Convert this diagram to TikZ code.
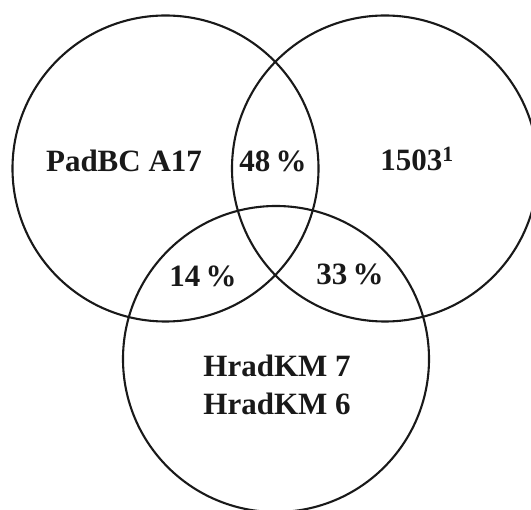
\documentclass[tikz,border=0pt]{standalone}
\usepackage{fontspec}
\setmainfont{Liberation Serif}
\begin{document}
\begin{tikzpicture}[x=1pt,y=-1pt,
  setring/.style={draw=black!90,line width=2.1pt},
  setlabel/.style={font=\fontsize{31}{37}\selectfont\bfseries,inner sep=0pt,anchor=base,text=black!90}]
  \useasboundingbox (0,0) rectangle (531,510);
  \clip (0,0) rectangle (531,510);
  % the three sets
  \coordinate (cA) at (165.5,168.5);
  \coordinate (cB) at (385,168.5);
  \coordinate (cC) at (276,359);
  \draw[setring] (cA) circle[radius=153];
  \draw[setring] (cB) circle[radius=153];
  \draw[setring] (cC) circle[radius=153];
  % set names
  \node[setlabel] (nA) at (124,172) {PadBC A17};
  \node[setlabel] (nB) at (417,171) {1503\textsuperscript{1}};
  \node[setlabel] (nC1) at (277,376.5) {HradKM 7};
  \node[setlabel] (nC2) at (277,415) {HradKM 6};
  % overlaps
  \node[setlabel] (nAB) at (273,172) {48\,\%};
  \node[setlabel] (nAC) at (203,286.5) {14\,\%};
  \node[setlabel] (nBC) at (350,285) {33\,\%};
\end{tikzpicture}
\end{document}
